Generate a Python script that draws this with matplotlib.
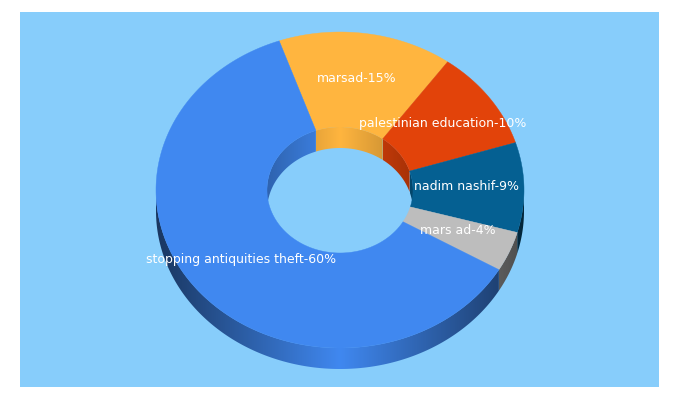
import numpy as np
import matplotlib
matplotlib.use('Agg')
import matplotlib.pyplot as plt
from matplotlib.colors import to_rgb
from matplotlib.patches import Rectangle
from matplotlib.path import Path

categories = ['marsad', 'palestinian education', 'nadim nashif', 'mars ad', 'stopping antiquities theft']
shares = [15, 10, 9, 4, 60]
slice_colors = ['#ffb53f', '#e2430a', '#056092', '#bdbdbd', '#4088f0']
bg_color = '#87cdfb'

# layout, in pixels of the 680x400 picture
cx, cy = 340, 190
rx, ry = 184, 158
rx_in, ry_in = 73, 63
depth = 21
start = -19.3	# where the first slice begins, degrees clockwise from the top
label_xy = [(357, 78), (443, 123), (467, 186), (458, 231), (241, 260)]


def ring(ang, a, b, dy=0):
	ang = np.radians(ang)
	return np.column_stack([cx + a*np.sin(ang), cy - b*np.cos(ang) + dy])


def wall(a0, a1, a, b, color, strength, lo, hi):
	# side of a slice: horizontal gradient clipped to the shape of the side
	a0, a1 = max(a0, lo), min(a1, hi)
	if a1 <= a0:
		return
	ang = np.linspace(a0, a1, 200)
	pts = np.vstack([ring(ang, a, b), ring(ang[::-1], a, b, depth)])
	x0, x1 = pts[:, 0].min(), pts[:, 0].max()
	y0, y1 = pts[:, 1].min(), pts[:, 1].max()
	xs = np.linspace(x0, x1, max(int(x1 - x0)*2, 2))
	shade = 1 - strength*np.abs(xs - cx)/a
	img = shade[None, :, None]*np.array(to_rgb(color))
	im = ax.imshow(img, extent=[x0, x1, y1, y0], aspect='auto', interpolation='bilinear', zorder=2)
	im.set_clip_path(Path(np.vstack([pts, pts[:1]]), closed=True), transform=ax.transData)


fig = plt.figure(figsize=(6.8, 4), dpi=100)
ax = fig.add_axes([0, 0, 1, 1])
ax.set_xlim(0, 680)
ax.set_ylim(400, 0)
ax.axis('off')
ax.add_patch(Rectangle((20, 12), 639, 375, facecolor=bg_color, edgecolor='none', zorder=1))

frac = np.array(shares)/sum(shares)
edges = start + 360*np.concatenate([[0], np.cumsum(frac)])

# outer wall (lower half) and inner wall (upper half), the top face hides what sticks out
for i, col in enumerate(slice_colors):
	wall(edges[i], edges[i+1], rx, ry, col, 0.6, 90, 270)
	for shift in (0, -360):
		wall(edges[i] + shift, edges[i+1] + shift, rx_in, ry_in, col, 0.27, -90, 90)

# top face
for i, col in enumerate(slice_colors):
	ang = np.linspace(edges[i], edges[i+1], 300)
	pts = np.vstack([ring(ang, rx, ry), ring(ang[::-1], rx_in, ry_in)])
	ax.fill(pts[:, 0], pts[:, 1], color=col, lw=0.3, zorder=3)

for name, share, (x, y) in zip(categories, shares, label_xy):
	ax.text(x, y, f'{name}-{share}%', color='white', fontsize=9, ha='center', va='center', zorder=4)

fig.savefig('out.png', dpi=100)
